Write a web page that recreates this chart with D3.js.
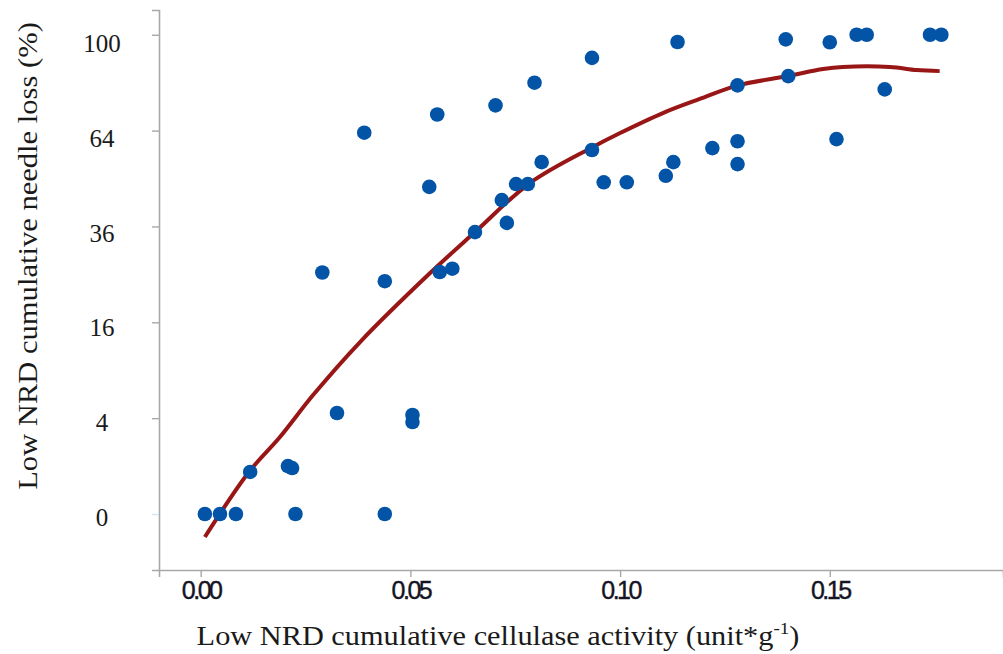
<!DOCTYPE html>
<html>
<head>
<meta charset="utf-8">
<script src="https://cdn.jsdelivr.net/npm/d3@7"></script>
<style>
  body { margin: 0; background: #fff; }
  svg { display: block; }
</style>
</head>
<body>
<div id="chart"></div>
<script>
// observed points: cellulase activity (x) and needle loss % (y)
const activity = [
  0.0010, 0.0046, 0.0084, 0.0226, 0.0439, 0.0118, 0.0208, 0.0218, 0.0325, 0.0505,
  0.0505, 0.0290, 0.0439, 0.0570, 0.0600, 0.0654, 0.0718, 0.0730, 0.0752, 0.0780,
  0.0813, 0.0933, 0.0961, 0.1016, 0.1109, 0.1127, 0.1220, 0.1280, 0.1280, 0.1516,
  0.0390, 0.0545, 0.0564, 0.0703, 0.0796, 0.0933, 0.1137, 0.1280, 0.1401, 0.1395,
  0.1500, 0.1564, 0.1588, 0.1631, 0.1739, 0.1766
]
const needleLoss = [
  0, 0, 0, 0, 0, 0.77, 1.0, 0.92, 4.44, 4.27,
  3.68, 25.4, 23.6, 25.5, 26.2, 34.6, 42.9, 36.9, 47.4, 47.4,
  53.9, 57.7, 47.9, 47.9, 49.8, 53.9, 58.3, 60.5, 53.3, 61.2,
  63.3, 46.6, 69.5, 72.7, 81.0, 90.6, 97.0, 80.0, 83.5, 98.1,
  96.9, 100, 100, 78.5, 100, 100
]

// fitted curve
const fitX = [0.0010, 0.0115, 0.0189, 0.0268, 0.0380, 0.0547, 0.0654, 0.0785, 0.0933, 0.1000,
              0.1102, 0.1190, 0.1281, 0.1400, 0.1484, 0.1531, 0.1643, 0.1707, 0.1762]
const fitY = [-0.23, 0.77, 2.58, 6.16, 12.88, 25.28, 34.6, 47.7, 58.5, 63.2,
              70.0, 75.0, 80.0, 83.5, 86.2, 87.0, 87.0, 85.8, 85.4]

const xTicks = [0, 0.05, 0.10, 0.15]
const yTicks = [0, 4, 16, 36, 64, 100]

const W = 1003, H = 654
const m = { left: 159, right: 1003, top: 10, bottom: 570 }
const serif = '"Liberation Serif", "Times New Roman", serif'

const svg = d3.select('#chart').append('svg')
    .attr('width', W)
    .attr('height', H)

// scales (y is square-root)
const x = d3.scaleLinear().domain([-0.00994, 0.1913]).range([m.left, m.right])
const y = d3.scalePow().exponent(0.5).domain([-1.365, 110.6]).range([m.bottom, m.top])

const axisCol = '#a8a8a8'

// x axis
const gx = svg.append('g')
    .attr('transform', `translate(0,${m.bottom})`)
    .call(d3.axisBottom(x).tickValues(xTicks).tickSize(7).tickFormat(d3.format('.2f')))
gx.select('.domain').attr('stroke', axisCol).attr('stroke-width', 1.6)
gx.selectAll('.tick line').attr('stroke', axisCol).attr('stroke-width', 1.4)
gx.selectAll('.tick text')
    .attr('y', 11)
    .attr('fill', '#141424')
    .style('font-family', '"Liberation Sans", Arial, sans-serif')
    .style('font-size', '25px')
    .style('letter-spacing', '-2.5px')
    .style('stroke', '#141424')
    .style('stroke-width', 0.4)

// y axis
const gy = svg.append('g')
    .attr('transform', `translate(${m.left},0)`)
    .call(d3.axisLeft(y).tickValues(yTicks).tickSize(7).tickFormat(d3.format('d')))
gy.select('.domain').attr('stroke', axisCol).attr('stroke-width', 1.6)
gy.selectAll('.tick line')
    .attr('stroke', d => d === 0 ? '#cfe6f5' : axisCol)
    .attr('stroke-width', 1.4)
gy.selectAll('.tick text')
    .attr('x', -57)
    .attr('text-anchor', 'middle')
    .attr('dy', d => (4 + 6 * Math.sqrt(d) / 10) + 7 + 'px')
    .attr('fill', '#1a1a1a')
    .style('font-family', serif)
    .style('font-size', '25px')

// fitted curve
const line = d3.line()
    .x((d, i) => x(fitX[i]))
    .y(d => y(d))
    .curve(d3.curveCatmullRom.alpha(0.5))

svg.append('path')
    .datum(fitY)
    .attr('d', line)
    .attr('fill', 'none')
    .attr('stroke', '#981616')
    .attr('stroke-width', 4)

// points
svg.append('g')
    .selectAll('circle')
    .data(activity)
    .join('circle')
    .attr('cx', d => x(d))
    .attr('cy', (d, i) => y(needleLoss[i]))
    .attr('r', 7.3)
    .attr('fill', '#0354a6')

// stretch a title to the width it has in the picture
function fitTo(sel, len) {
    const w = sel.node().getComputedTextLength()
    return len / w
}

// axis titles
const xt = svg.append('text')
    .attr('text-anchor', 'middle')
    .attr('fill', '#1a1a1a')
    .style('font-family', serif)
    .style('font-size', '27px')
xt.append('tspan').text('Low NRD cumulative cellulase activity (unit*g')
xt.append('tspan').attr('dy', -11).style('font-size', '17px').text('-1')
xt.append('tspan').attr('dy', 11).text(')')
const kx = fitTo(xt, 603)
xt.attr('transform', `translate(498,645) scale(${kx},1)`)

const yt = svg.append('text')
    .attr('text-anchor', 'middle')
    .attr('fill', '#1a1a1a')
    .style('font-family', serif)
    .style('font-size', '27px')
    .text('Low NRD cumulative needle loss (%)')
const ky = fitTo(yt, 468)
yt.attr('transform', `translate(37,256) rotate(-90) scale(${ky},1)`)
</script>
</body>
</html>
